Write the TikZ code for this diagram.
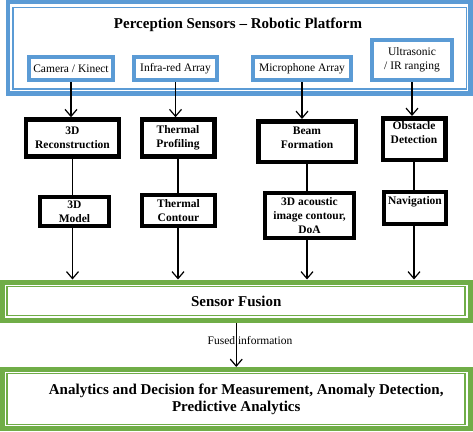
\documentclass[tikz,border=0pt]{standalone}
\usepackage{fontspec}
\setmainfont{Liberation Serif}
\usetikzlibrary{arrows.meta}
\definecolor{ublue}{HTML}{5B9BD5}
\definecolor{ugreen}{HTML}{70AD47}
\begin{document}
\begin{tikzpicture}[x=1pt,y=-1pt,
  sensorbox/.style={draw=ublue, line width=4pt, fill=white, inner sep=0pt, align=center,
    font=\fontsize{11.5}{14}\selectfont},
  procbox/.style={draw=black, line width=4.5pt, fill=white, inner sep=0pt, align=center,
    font=\bfseries\fontsize{11.5}{14}\selectfont},
  greenbox/.style={draw=ugreen, line width=5pt, inner sep=0pt, align=center,
    font=\bfseries\fontsize{15}{17}\selectfont},
  conn/.style={line width=1.2pt},
  arr/.style={conn, -{Straight Barb[length=7pt,width=12pt,line width=1.2pt]}},
]
\useasboundingbox (0,0) rectangle (473,431);

% platform frame
\node[draw=ublue, line width=4.5pt, inner sep=0pt, minimum width=462.5pt, minimum height=91.5pt] (platform) at (239.25,47.75) {};
\draw[ublue, line width=1.2pt] (13,7.5) rectangle (466.5,89);
\node[font=\bfseries\fontsize{15}{17}\selectfont, anchor=base] (title) at (238,28) {Perception Sensors -- Robotic Platform};

% sensors
\node[sensorbox, minimum width=84pt, minimum height=23pt] (cam) at (71,68.5) {Camera / Kinect};
\node[sensorbox, minimum width=83pt, minimum height=23pt] (infra) at (175.5,68.5) {Infra-red Array};
\node[sensorbox, minimum width=98pt, minimum height=23pt] (mic) at (302,68.5) {Microphone Array};
\node[sensorbox, minimum width=80pt, minimum height=40pt] (ultra) at (412,60) {Ultrasonic\\/ IR ranging};

% processing row 1
\node[procbox, minimum width=93pt, minimum height=37pt] (recon) at (72.5,138) {3D\\Reconstruction};
\node[procbox, minimum width=72.5pt, minimum height=37pt] (thprof) at (178,138) {Thermal\\Profiling};
\node[procbox, minimum width=97.5pt, minimum height=40.5pt,
  label={[align=center, font=\bfseries\fontsize{11.5}{14}\selectfont, yshift=4pt]center:{Beam\\Formation}}] (beam) at (307,141.5) {};
\node[procbox, minimum width=62.5pt, minimum height=41.5pt,
  label={[align=center, font=\bfseries\fontsize{11.5}{14}\selectfont, yshift=6pt]center:{Obstacle\\Detection}}] (obst) at (414,139) {};

% processing row 2
\node[procbox, minimum width=69pt, minimum height=29pt] (model) at (74.5,211.5) {3D\\Model};
\node[procbox, minimum width=73pt, minimum height=31pt] (thcont) at (178.5,210.5) {Thermal\\Contour};
\node[procbox, minimum width=89pt, minimum height=45pt] (acou) at (309.5,215.5) {3D acoustic\\image contour,\\DoA};
\node[procbox, minimum width=62pt, minimum height=32pt,
  label={[font=\bfseries\fontsize{11.5}{14}\selectfont, yshift=6pt]center:Navigation}] (nav) at (415,208) {};

% fusion and analytics
\node[greenbox, minimum width=467.5pt, minimum height=38.5pt] (fusion) at (236.25,301.25) {Sensor Fusion};
\draw[ugreen, line width=1.2pt] (7,286.5) rectangle (465,315.5);
\node[greenbox, minimum width=467.5pt, minimum height=59pt] (analytics) at (236.25,399)
  {\hspace*{20pt}Analytics and Decision for Measurement, Anomaly Detection,\\Predictive Analytics};
\draw[ugreen, line width=1.2pt] (7,373.5) rectangle (465,424.5);

% connectors
\draw[arr] (cam.south) -- (cam.south |- recon.north);
\draw[arr] (infra.south) -- (infra.south |- thprof.north);
\draw[arr] (mic.south) -- (mic.south |- beam.north);
\draw[arr] (ultra.south) -- (ultra.south |- obst.north);

\draw[conn] (recon.south) -- (recon.south |- model.north);
\draw[conn] (thprof.south) -- (thprof.south |- thcont.north);
\draw[conn] (beam.south) -- (beam.south |- acou.north);
\draw[conn] (obst.south) -- (obst.south |- nav.north);

\draw[arr] (recon.south |- model.south) -- (recon.south |- fusion.north);
\draw[arr] (thprof.south |- thcont.south) -- (thprof.south |- fusion.north);
\draw[arr] (beam.south |- acou.south) -- (beam.south |- fusion.north);
\draw[arr] (obst.south |- nav.south) -- (obst.south |- fusion.north);

\draw[arr] (fusion.south) -- (analytics.north);
\node[font=\fontsize{11.5}{14}\selectfont] (fused) at (250,341) {Fused information};
\end{tikzpicture}
\end{document}
